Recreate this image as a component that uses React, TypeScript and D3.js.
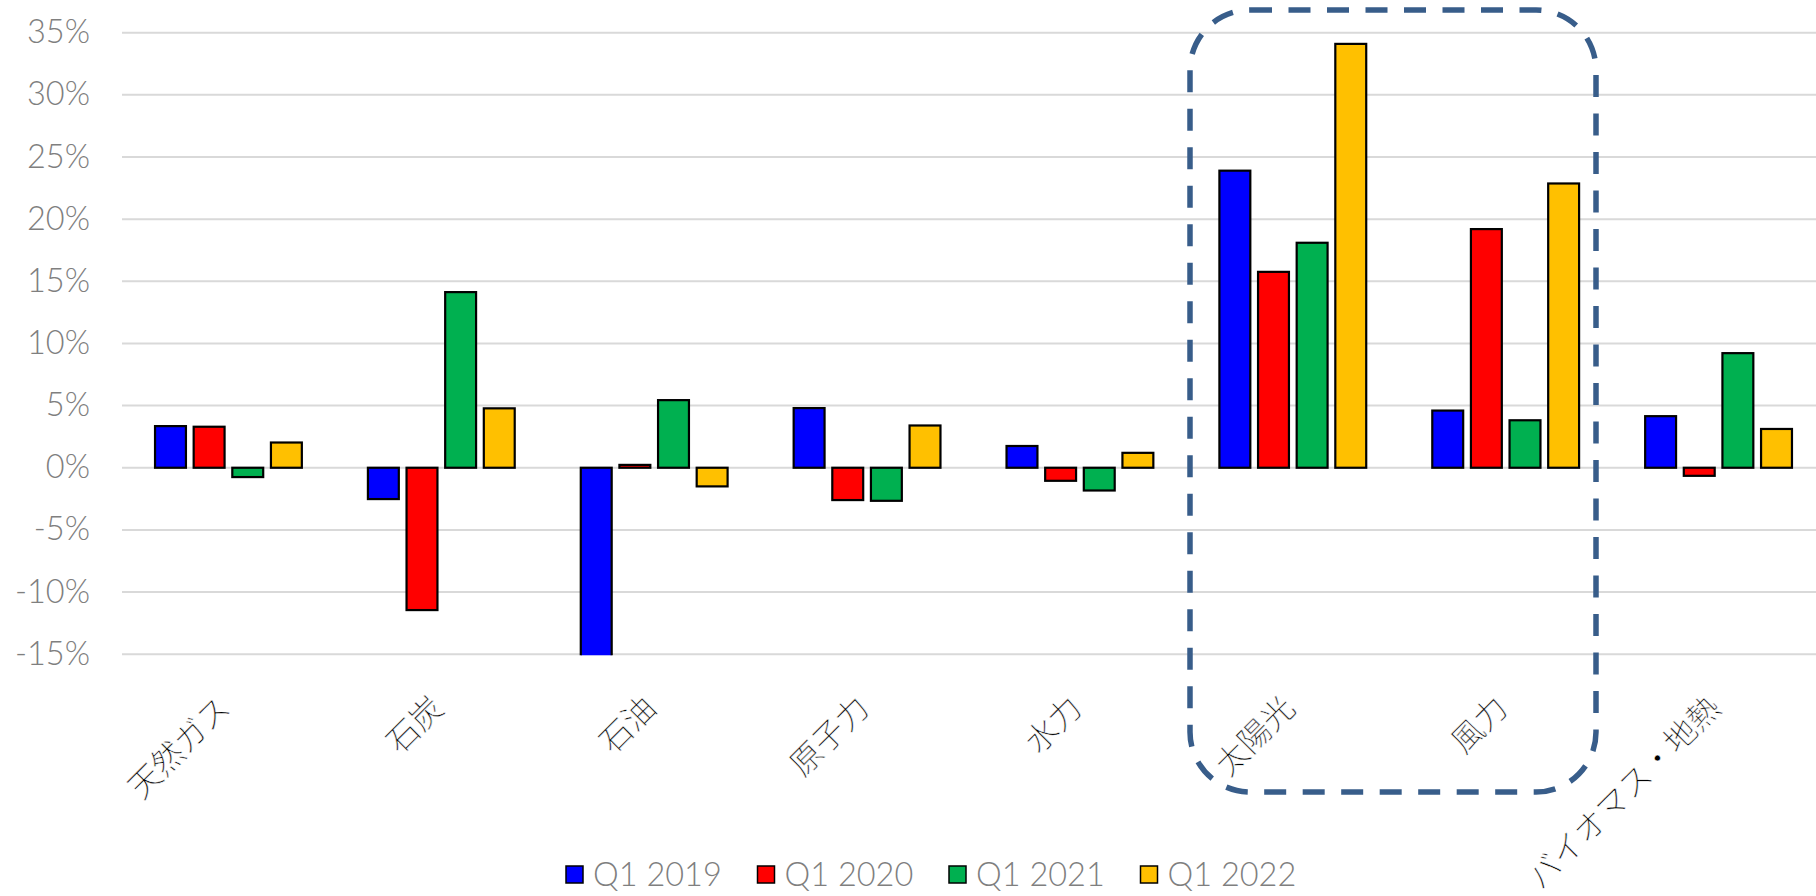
import React from 'react';
import * as d3 from 'd3';

const categories = ['天然ガス', '石炭', '石油', '原子力', '水力', '太陽光', '風力', 'バイオマス・地熱'];
const seriesNames = ['Q1 2019', 'Q1 2020', 'Q1 2021', 'Q1 2022'];
const seriesColors = ['#0000FF', '#FF0000', '#00B050', '#FFC000'];
const q1_2019 = [3.35, -2.52, -15.5, 4.8, 1.75, 23.9, 4.6, 4.15];
const q1_2020 = [3.3, -11.45, 0.23, -2.6, -1.05, 15.76, 19.2, -0.65];
const q1_2021 = [-0.75, 14.13, 5.44, -2.66, -1.83, 18.1, 3.82, 9.22];
const q1_2022 = [2.03, 4.78, -1.5, 3.4, 1.2, 34.1, 22.87, 3.12];
const yTicks = [-15, -10, -5, 0, 5, 10, 15, 20, 25, 30, 35];

const seriesValues = [q1_2019, q1_2020, q1_2021, q1_2022];

const W = 1816;
const H = 896;
const PLOT_L = 122;
const PLOT_R = 1825;
const PLOT_T = 32.7;
const PLOT_B = 654.2;
const FONT = '"Noto Sans CJK JP", "Noto Sans", sans-serif';
const LATIN = 'Lato, "Noto Sans", sans-serif';

export default function App() {
  const x0 = d3.scaleBand<string>().domain(categories).range([PLOT_L, PLOT_R]).padding(0);
  const x1 = d3
    .scaleBand<string>()
    .domain(seriesNames)
    .range([0, x0.bandwidth()])
    .paddingInner(0.2)
    .paddingOuter(0.855);
  const y = d3.scaleLinear().domain([-15, 35]).range([PLOT_B, PLOT_T]);

  const legendX = 566;
  const legendStep = 191.5;

  return (
    <div style={{ position: 'absolute', left: 0, top: 0, width: W, height: H, background: '#fff' }}>
      <svg width={W} height={H} style={{ display: 'block' }}>
        <defs>
          <clipPath id="plotClip">
            <rect x={PLOT_L} y={0} width={PLOT_R - PLOT_L} height={PLOT_B + 1} />
          </clipPath>
        </defs>
        <rect x={0} y={0} width={W} height={H} fill="#fff" />
        {yTicks.map((t) => (
          <line
            key={'g' + t}
            x1={PLOT_L}
            x2={PLOT_R}
            y1={y(t)}
            y2={y(t)}
            stroke="#D9D9D9"
            strokeWidth={2}
          />
        ))}
        {yTicks.map((t) => (
          <text
            key={'l' + t}
            x={90}
            y={y(t) - 2}
            textAnchor="end"
            dominantBaseline="central"
            fontFamily={LATIN}
            fontWeight={300}
            fontSize={32.5}
            fill="#7F7F7F"
          >
            {t + '%'}
          </text>
        ))}
        <g clipPath="url(#plotClip)">
          {categories.map((c, ci) =>
            seriesNames.map((s, si) => {
              const v = seriesValues[si][ci];
              const y0 = y(0);
              const yv = y(v);
              const top = Math.min(y0, yv);
              const h = Math.abs(yv - y0);
              return (
                <rect
                  key={c + s}
                  x={(x0(c) as number) + (x1(s) as number)}
                  y={top}
                  width={x1.bandwidth()}
                  height={h}
                  fill={seriesColors[si]}
                  stroke="#000"
                  strokeWidth={2.2}
                />
              );
            })
          )}
        </g>
        {categories.map((c) => {
          const cx = (x0(c) as number) + x0.bandwidth() / 2 + 4;
          const cy = 710;
          return (
            <text
              key={'c' + c}
              transform={`translate(${cx},${cy}) rotate(-45)`}
              textAnchor="end"
              fontFamily={FONT}
              fontWeight={300}
              fontSize={32}
              fill="#000"
              stroke="#fff"
              strokeWidth={0.5}
              style={{ paintOrder: 'fill stroke' } as any}
            >
              {c}
            </text>
          );
        })}
        <rect
          x={1190}
          y={10}
          width={406}
          height={782}
          rx={60}
          ry={60}
          fill="none"
          stroke="#385D8A"
          strokeWidth={5.5}
          strokeDasharray="22 16.5"
        />
        {seriesNames.map((s, si) => {
          const lx = legendX + si * legendStep;
          return (
            <g key={'lg' + s}>
              <rect x={lx} y={866} width={17} height={17} fill={seriesColors[si]} stroke="#000" strokeWidth={1.5} />
              <text
                x={lx + 27}
                y={886}
                fontFamily={LATIN}
                fontWeight={300}
                fontSize={32.5}
                fill="#7F7F7F"
              >
                {s}
              </text>
            </g>
          );
        })}
      </svg>
    </div>
  );
}
